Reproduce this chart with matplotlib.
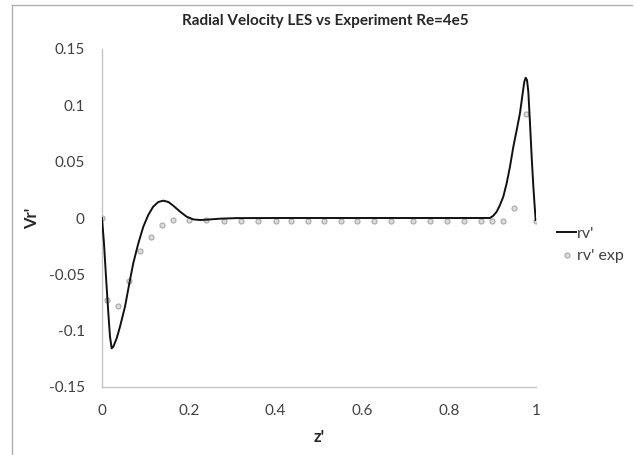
import matplotlib
matplotlib.use("Agg")
import matplotlib.pyplot as plt
from matplotlib.lines import Line2D

# LES radial velocity (rv')
les_z = [0.0, 0.0046, 0.0092, 0.0146, 0.0184, 0.0223, 0.026, 0.0338, 0.0415, 0.053,
         0.063, 0.072, 0.0837, 0.0952, 0.1067, 0.118, 0.1298, 0.1413, 0.153, 0.164,
         0.18, 0.195, 0.21, 0.226, 0.241, 0.272, 0.31, 0.4, 0.5, 0.6, 0.7, 0.8, 0.894,
         0.9016, 0.9094, 0.917, 0.9247, 0.9324, 0.940, 0.9478, 0.9555, 0.963, 0.9693,
         0.9731, 0.9762, 0.9793, 0.9823, 0.9862, 0.990, 0.9939, 0.997, 0.9993]
les_v = [0.0, -0.0225, -0.052, -0.0846, -0.1053, -0.1157, -0.1142, -0.1068, -0.0964, -0.0787,
         -0.058, -0.0402, -0.0225, -0.0077, 0.0027, 0.0101, 0.0142, 0.0154, 0.0142, 0.011,
         0.0056, 0.0012, -0.0012, -0.0018, -0.0015, -0.0006, -0.0001, 0.0, 0.0, 0.0, 0.0, 0.0, 0.0,
         0.002, 0.0056, 0.0115, 0.019, 0.0308, 0.0455, 0.0633, 0.078, 0.0929, 0.1106,
         0.121, 0.1245, 0.1224, 0.112, 0.084, 0.0544, 0.0278, 0.010, -0.0018]

# Experiment (rv' exp)
exp_z = [0.0, 0.0125, 0.0375, 0.0625, 0.0875, 0.1125, 0.1375, 0.1625, 0.2, 0.24,
         0.28, 0.32, 0.36, 0.4, 0.435, 0.474, 0.512, 0.551, 0.588, 0.627,
         0.666, 0.717, 0.756, 0.794, 0.833, 0.873, 0.899, 0.923, 0.949, 0.977, 1.0]
exp_v = [0.0, -0.0725, -0.078, -0.0555, -0.029, -0.0165, -0.0062, -0.002, -0.002, -0.002,
         -0.0025, -0.003, -0.003, -0.003, -0.003, -0.003, -0.003, -0.003, -0.003, -0.003,
         -0.003, -0.003, -0.003, -0.003, -0.003, -0.003, -0.003, -0.003, 0.0086, 0.092, -0.003]

x_ticks = [0, 0.2, 0.4, 0.6, 0.8, 1]
x_ticklabels = ["0", "0.2", "0.4", "0.6", "0.8", "1"]
y_ticks = [-0.15, -0.1, -0.05, 0, 0.05, 0.1, 0.15]
y_ticklabels = ["-0.15", "-0.1", "-0.05", "0", "0.05", "0.1", "0.15"]

plt.rcParams['font.family'] = ['Lato', 'DejaVu Sans']

W, H = 636, 455
fig = plt.figure(figsize=(W / 100, H / 100), dpi=100)
ax = fig.add_axes([102 / W, 1 - 387 / H, (536 - 102) / W, (387 - 49) / H])

ax.plot(les_z, les_v, color="#111111", lw=1.4, label="rv'", zorder=3)
ax.plot(exp_z, exp_v, linestyle="none", marker="o", markersize=3.6,
        markerfacecolor="#dcdcdc", markeredgecolor="#a8a8a8", markeredgewidth=0.8,
        label="rv' exp", zorder=2)

ax.set_xlim(0, 1)
ax.set_ylim(-0.15, 0.15)
ax.set_xticks(x_ticks)
ax.set_xticklabels(x_ticklabels)
ax.set_yticks(y_ticks)
ax.set_yticklabels(y_ticklabels)
ax.tick_params(axis="both", length=0, labelsize=11, labelcolor="#404040")
ax.tick_params(axis="y", pad=12.5)
ax.tick_params(axis="x", pad=12)

for s in ["top", "right"]:
    ax.spines[s].set_visible(False)
for s in ["left", "bottom"]:
    ax.spines[s].set_color("#c4c4c4")
    ax.spines[s].set_linewidth(1.0)

ax.set_xlabel("z'", fontsize=12, fontweight="bold", color="#262626")
ax.set_ylabel("Vr'", fontsize=12, fontweight="bold", color="#262626")
ax.xaxis.set_label_coords((319 - 102) / 434, (387 - 437) / 338)
ax.yaxis.set_label_coords((32 - 102) / 434, 0.5)
ax.xaxis.label.set_va("center")
ax.yaxis.label.set_va("center")

fig.text(325 / W, 1 - 21 / H, "Radial Velocity LES vs Experiment Re=4e5",
         ha="center", va="center", fontsize=11, fontweight="bold", color="#262626")

ax.legend(loc="center left", bbox_to_anchor=(557 / W, 1 - 245 / H),
          bbox_transform=fig.transFigure, frameon=False, fontsize=11.5,
          handlelength=1.2, handletextpad=0.05, borderpad=0, borderaxespad=0,
          labelspacing=0.5, labelcolor="#404040")

# outer frame (top and left edges visible)
fig.add_artist(Line2D([12 / W, 632 / W], [1 - 5 / H, 1 - 5 / H],
                      transform=fig.transFigure, color="#b0b0b0", lw=1.0))
fig.add_artist(Line2D([12 / W, 12 / W], [0, 1 - 5 / H],
                      transform=fig.transFigure, color="#b0b0b0", lw=1.0))

fig.savefig("out.png", dpi=100)
